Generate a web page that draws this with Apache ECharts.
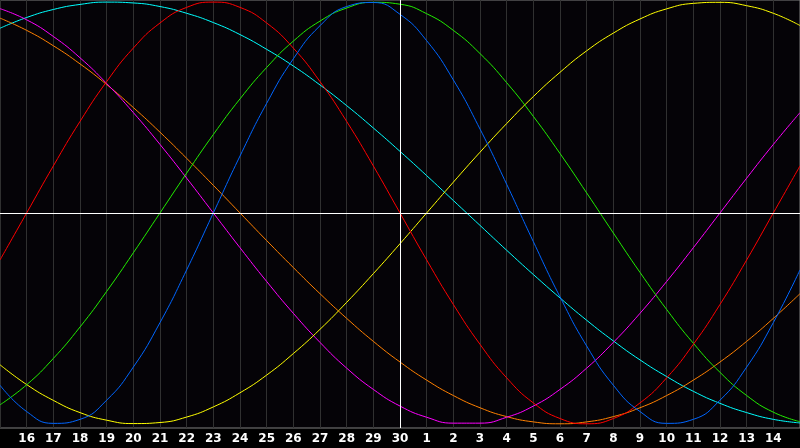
<!DOCTYPE html>
<html>
<head>
<meta charset="utf-8">
<script src="https://cdn.jsdelivr.net/npm/echarts@6/dist/echarts.min.js"></script>
<style>
html,body{margin:0;padding:0;background:#000;}
#chart{width:800px;height:448px;}
</style>
</head>
<body>
<div id="chart"></div>
<script>
// Day labels along the x axis (15th to 15th, "30" is today)
var days = ['15','16','17','18','19','20','21','22','23','24','25','26','27','28','29','30',
            '1','2','3','4','5','6','7','8','9','10','11','12','13','14','15'];
var todayIndex = 15;

// Cycle values, one per day
var red = [-0.223, 0, 0.223, 0.434, 0.623, 0.782, 0.901, 0.975, 1, 0.975, 0.901, 0.782, 0.623, 0.434, 0.223, 0,
           -0.223, -0.434, -0.623, -0.782, -0.901, -0.975, -1, -0.975, -0.901, -0.782, -0.623, -0.434, -0.223, 0, 0.223];
var green = [-0.910, -0.815, -0.690, -0.541, -0.372, -0.189, 0, 0.189, 0.372, 0.541, 0.690, 0.815, 0.910, 0.972, 0.999, 0.990,
             0.945, 0.866, 0.756, 0.618, 0.458, 0.282, 0.095, -0.095, -0.282, -0.458, -0.618, -0.756, -0.866, -0.945, -0.990];
var blue = [-0.817, -0.942, -0.998, -0.979, -0.888, -0.731, -0.520, -0.270, 0, 0.270, 0.520, 0.731, 0.888, 0.979, 0.998, 0.942,
            0.817, 0.631, 0.398, 0.136, -0.136, -0.398, -0.631, -0.817, -0.942, -0.998, -0.979, -0.888, -0.731, -0.520, -0.270];
var magenta = [0.969, 0.916, 0.837, 0.736, 0.614, 0.476, 0.325, 0.165, 0, -0.165, -0.325, -0.476, -0.614, -0.736, -0.837, -0.916,
               -0.969, -0.997, -0.997, -0.969, -0.916, -0.837, -0.736, -0.614, -0.476, -0.325, -0.165, 0, 0.165, 0.325, 0.476];
var orange = [0.924, 0.866, 0.793, 0.707, 0.609, 0.5, 0.383, 0.259, 0.131, 0, -0.131, -0.259, -0.383, -0.5, -0.609, -0.707,
              -0.793, -0.866, -0.924, -0.966, -0.991, -1, -0.991, -0.966, -0.924, -0.866, -0.793, -0.707, -0.609, -0.5, -0.383];
var yellow = [-0.720, -0.814, -0.889, -0.947, -0.983, -0.999, -0.994, -0.968, -0.920, -0.853, -0.769, -0.667, -0.552, -0.424, -0.288, -0.146,
              0, 0.146, 0.288, 0.424, 0.552, 0.667, 0.769, 0.853, 0.920, 0.968, 0.994, 0.999, 0.983, 0.947, 0.889];
var cyan = [0.876, 0.927, 0.965, 0.989, 1.000, 0.996, 0.979, 0.947, 0.903, 0.846, 0.776, 0.697, 0.607, 0.509, 0.403, 0.292,
            0.177, 0.059, -0.059, -0.177, -0.292, -0.403, -0.509, -0.607, -0.697, -0.776, -0.846, -0.903, -0.947, -0.979, -0.996];

var seriesDefs = [
  {name: 'cyan', data: cyan, color: '#00ffff'},
  {name: 'orange', data: orange, color: '#ff8000'},
  {name: 'magenta', data: magenta, color: '#ff00ff'},
  {name: 'yellow', data: yellow, color: '#ffff00'},
  {name: 'green', data: green, color: '#22ee00'},
  {name: 'red', data: red, color: '#ff0000'},
  {name: 'blue', data: blue, color: '#0066ff'}
];

var chart = echarts.init(document.getElementById('chart'), null, {renderer: 'canvas'});

var series = seriesDefs.map(function (s, i) {
  var o = {
    name: s.name,
    type: 'line',
    data: s.data,
    smooth: true,
    showSymbol: false,
    symbol: 'none',
    silent: true,
    animation: false,
    lineStyle: {color: s.color, width: 1},
    z: 3
  };
  if (i === 0) {
    o.markLine = {
      silent: true,
      symbol: 'none',
      animation: false,
      label: {show: false},
      lineStyle: {color: '#ffffff', width: 1, type: 'solid'},
      data: [{xAxis: todayIndex}, {yAxis: 0}]
    };
  }
  return o;
});

chart.setOption({
  backgroundColor: '#000000',
  animation: false,
  grid: {
    left: 0, right: 0, top: 0, bottom: 20,
    show: true,
    backgroundColor: '#050307',
    borderColor: '#808080',
    borderWidth: 1
  },
  xAxis: {
    type: 'category',
    data: days,
    boundaryGap: false,
    axisLine: {show: true, lineStyle: {color: '#c8c8c8', width: 1}},
    axisTick: {show: false},
    axisLabel: {
      show: true,
      interval: function (i) { return i > 0 && i < days.length - 1; },
      color: '#ffffff',
      fontFamily: 'DejaVu Sans',
      fontWeight: 'bold',
      fontSize: 12,
      margin: 5
    },
    splitLine: {show: true, interval: 0, lineStyle: {color: '#303030', width: 1}}
  },
  yAxis: {
    type: 'value',
    min: -1.02,
    max: 1.01,
    show: false,
    splitLine: {show: false}
  },
  series: series
});
</script>
</body>
</html>
